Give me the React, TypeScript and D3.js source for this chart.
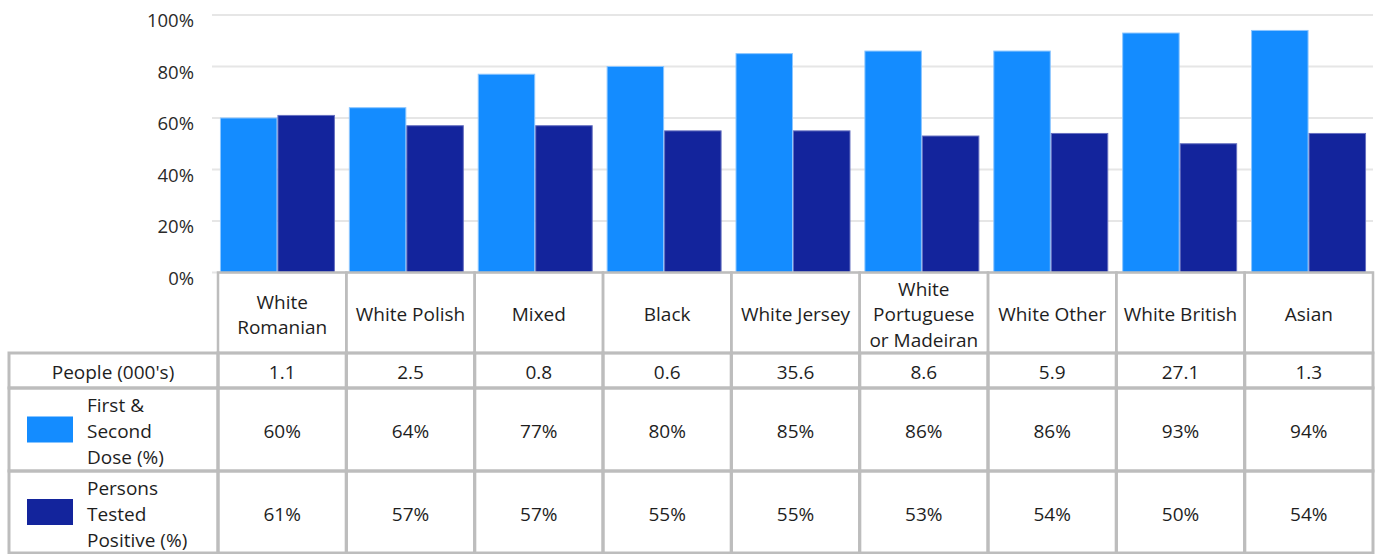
import { useMemo } from 'react'
import * as d3 from 'd3'

const categories = [
  ['White', 'Romanian'],
  ['White Polish'],
  ['Mixed'],
  ['Black'],
  ['White Jersey'],
  ['White', 'Portuguese', 'or Madeiran'],
  ['White Other'],
  ['White British'],
  ['Asian']
]
const people = ['1.1', '2.5', '0.8', '0.6', '35.6', '8.6', '5.9', '27.1', '1.3']
const firstDose = [60, 64, 77, 80, 85, 86, 86, 93, 94]
const testedPositive = [61, 57, 57, 55, 55, 53, 54, 50, 54]
const yTicks = [0, 20, 40, 60, 80, 100]

const seriesNames = [
  ['First &', 'Second', 'Dose (%)'],
  ['Persons', 'Tested', 'Positive (%)']
]
const seriesColors = ['#148cff', '#13249c']
const seriesStroke = ['#8cc6ff', '#6670c0']

const W = 1378
const H = 554
const FONT = '"Open Sans", "Segoe UI", sans-serif'
const TEXT = '#1e1e1e'
const GRID = '#bdbdbd'
const FS = 19
const DY = 3.5

export default function App() {
  const keys = categories.map((_, i) => String(i))
  const plotLeft = 213
  const plotRight = 1373
  const y0 = 272.5
  const y100 = 15

  const y = useMemo(() => d3.scaleLinear().domain([0, 100]).range([y0, y100]), [])
  const x = useMemo(
    () => d3.scaleBand().domain(keys).range([plotLeft, plotRight]).paddingInner(0.108).paddingOuter(0.054),
    []
  )
  const xs = useMemo(() => d3.scaleBand().domain(['a', 'b']).range([0, x.bandwidth()]), [x])

  // table geometry
  const tableLeft = 9
  const colStart = 218
  const tableRight = 1373
  const col = d3.scaleBand().domain(keys).range([colStart, tableRight])
  const rows = [272.5, 353, 388, 471, 553]

  const series = [firstDose, testedPositive]

  return (
    <svg width={W} height={H} style={{ position: 'absolute', left: 0, top: 0, background: '#fff' }} fontFamily={FONT}>
      {/* gridlines */}
      {yTicks.map(t => (
        <g key={t}>
          <line x1={212} x2={plotRight} y1={y(t)} y2={y(t)} stroke="#e6e6e6" strokeWidth={2} />
          <text x={194} y={y(t) + 7.5} textAnchor="end" dominantBaseline="middle" fontSize={18.5} fill="#2a2a2a">
            {t}%
          </text>
        </g>
      ))}

      {/* bars */}
      {keys.map((k, i) => (
        <g key={k} transform={`translate(${x(k)},0)`}>
          {series.map((s, j) => (
            <rect
              key={j}
              x={xs(j === 0 ? 'a' : 'b')! + 0.5}
              y={y(s[i])}
              width={xs.bandwidth() - 1}
              height={y0 - y(s[i])}
              fill={seriesColors[j]}
              stroke={seriesStroke[j]}
              strokeWidth={1}
            />
          ))}
        </g>
      ))}

      {/* table cells */}
      <g fill="none" stroke={GRID}>
        {keys.map((k, i) => (
          <rect key={'h' + k} x={col(k)} y={rows[0]} width={col.bandwidth()} height={rows[1] - rows[0]} strokeWidth={2.5} />
        ))}
        {rows.slice(1, 4).map((r, ri) => (
          <g key={ri}>
            <rect x={tableLeft} y={r} width={colStart - tableLeft} height={rows[ri + 2] - r} strokeWidth={3} />
            {keys.map(k => (
              <rect key={k} x={col(k)} y={r} width={col.bandwidth()} height={rows[ri + 2] - r} strokeWidth={3} />
            ))}
          </g>
        ))}
      </g>

      {/* header labels */}
      {categories.map((lines, i) => {
        const cx = col(keys[i])! + col.bandwidth() / 2
        const cy = (rows[0] + rows[1]) / 2 + DY
        const lh = 25.5
        return (
          <text key={i} textAnchor="middle" fontSize={FS} fill={TEXT}>
            {lines.map((l, li) => (
              <tspan key={li} x={cx} y={cy + (li - (lines.length - 1) / 2) * lh} dominantBaseline="middle">
                {l}
              </tspan>
            ))}
          </text>
        )
      })}

      {/* people row */}
      <text x={113} y={(rows[1] + rows[2]) / 2 + DY} textAnchor="middle" dominantBaseline="middle" fontSize={FS} fill={TEXT}>
        People (000's)
      </text>
      {people.map((p, i) => (
        <text
          key={i}
          x={col(keys[i])! + col.bandwidth() / 2}
          y={(rows[1] + rows[2]) / 2 + DY}
          textAnchor="middle"
          dominantBaseline="middle"
          fontSize={FS}
          fill={TEXT}
        >
          {p}
        </text>
      ))}

      {/* series rows */}
      {series.map((s, j) => {
        const top = rows[j + 2]
        const bot = rows[j + 3]
        const cy = (top + bot) / 2
        return (
          <g key={j}>
            <rect x={27} y={cy - 13} width={46} height={26} fill={seriesColors[j]} />
            <text fontSize={FS} fill={TEXT}>
              {seriesNames[j].map((l, li) => (
                <tspan key={li} x={87} y={cy + DY + (li - 1) * 26} dominantBaseline="middle">
                  {l}
                </tspan>
              ))}
            </text>
            {s.map((v, i) => (
              <text
                key={i}
                x={col(keys[i])! + col.bandwidth() / 2}
                y={cy + DY}
                textAnchor="middle"
                dominantBaseline="middle"
                fontSize={FS}
                fill={TEXT}
              >
                {v}%
              </text>
            ))}
          </g>
        )
      })}
    </svg>
  )
}
